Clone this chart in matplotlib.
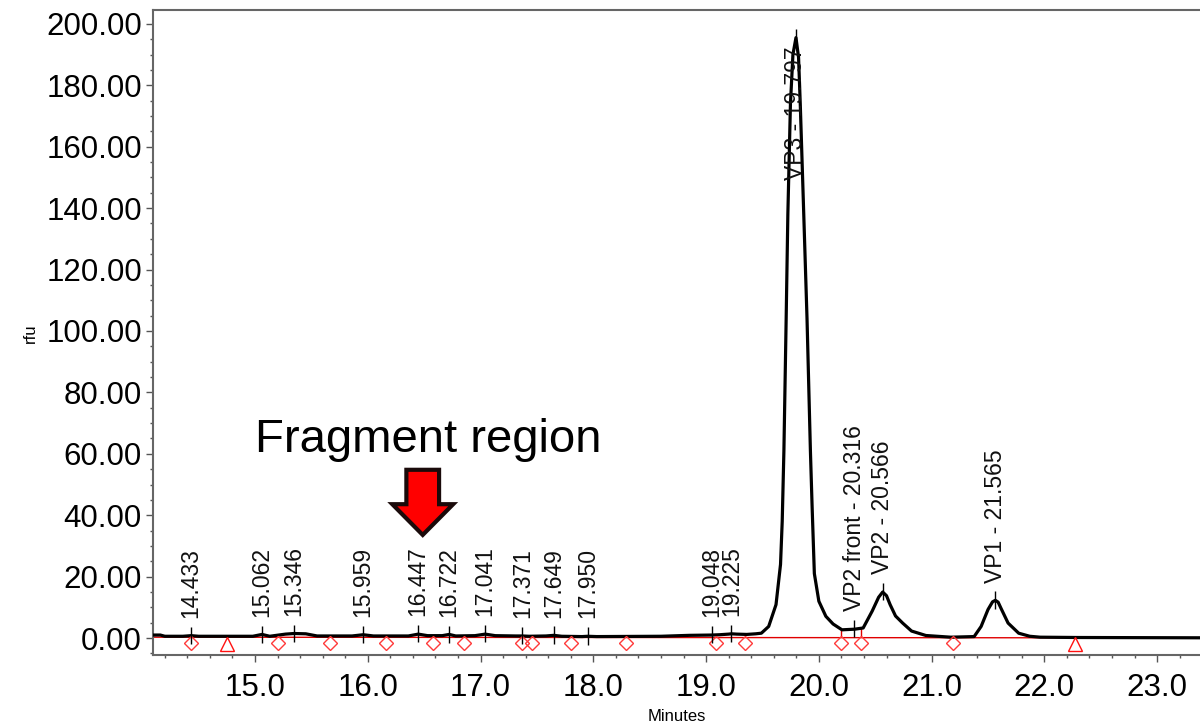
import matplotlib
matplotlib.use("Agg")
import matplotlib.pyplot as plt
from matplotlib.patches import FancyArrow
from matplotlib.ticker import MultipleLocator, FormatStrFormatter

plt.rcParams['font.family'] = ['Liberation Sans', 'DejaVu Sans']

# detector trace (minutes, rfu)
trace_t = [14.09, 14.16, 14.20, 14.36, 14.433, 14.50, 14.98, 15.062, 15.13, 15.27,
           15.346, 15.45, 15.55, 15.86, 15.959, 16.05, 16.36, 16.447, 16.53, 16.66,
           16.722, 16.78, 16.95, 17.041, 17.13, 17.31, 17.371, 17.43, 17.58, 17.649,
           17.72, 17.90, 17.950, 18.03, 18.60, 18.85, 19.048, 19.12, 19.20, 19.225,
           19.27, 19.36, 19.44, 19.49, 19.555, 19.62, 19.66, 19.675, 19.69, 19.71,
           19.725, 19.748, 19.77, 19.797, 19.82, 19.835, 19.866, 19.895, 19.925, 19.94,
           19.96, 20.00, 20.062, 20.126, 20.205, 20.26, 20.316, 20.393, 20.473, 20.53,
           20.566, 20.60, 20.632, 20.68, 20.743, 20.822, 20.949, 21.17, 21.377, 21.439,
           21.50, 21.54, 21.565, 21.59, 21.614, 21.678, 21.772, 21.87, 21.962, 22.30,
           23.40]
trace_v = [1.0, 1.0, 0.6, 0.6, 0.8, 0.6, 0.6, 1.2, 0.6, 1.3,
           1.5, 1.4, 0.7, 0.7, 1.1, 0.7, 0.7, 1.3, 0.8, 0.8,
           1.2, 0.7, 0.8, 1.3, 0.8, 0.7, 0.7, 0.6, 0.7, 0.9,
           0.6, 0.5, 0.6, 0.5, 0.6, 0.9, 1.0, 1.1, 1.3, 1.4,
           1.3, 1.2, 1.4, 1.6, 3.8, 10.9, 24.0, 38.0, 61.0, 104.0,
           138.0, 174.0, 190.0, 195.5, 189.0, 174.0, 138.0, 104.0, 61.0, 43.0,
           21.0, 12.0, 7.1, 4.6, 2.7, 2.8, 2.9, 3.3, 8.8, 13.3,
           15.0, 13.8, 10.9, 7.2, 4.9, 2.3, 0.85, 0.3, 0.5, 3.8,
           9.3, 11.8, 12.3, 11.7, 9.8, 4.9, 1.6, 0.6, 0.3, 0.2,
           0.1]

# integration baseline
base_t = [14.09, 22.273]
base_v = [0.3, 0.1]

# labelled peaks
peak_times = [14.433, 15.062, 15.346, 15.959, 16.447, 16.722, 17.041, 17.371,
              17.649, 17.950, 19.048, 19.225, 19.797, 20.316, 20.566, 21.565]
peak_names = ['', '', '', '', '', '', '', '', '', '', '', '',
              'VP3', 'VP2 front', 'VP2', 'VP1']
peak_height = [0.8, 1.2, 1.5, 1.1, 1.3, 1.2, 1.3, 0.7,
               0.9, 0.6, 1.0, 1.4, 195.5, 2.9, 15.0, 12.3]

# peak start / end markers
diamond_t = [14.430, 15.201, 15.665, 16.159, 16.581, 16.854, 17.365, 17.459,
             17.803, 18.290, 19.089, 19.346, 20.197, 20.372, 21.190]
triangle_t = [14.749, 22.273]
drop_t = [20.197, 20.372]
drop_v = [2.7, 3.2]

fig = plt.figure(figsize=(12, 7.24), dpi=100)
ax = fig.add_axes([0.1275, 0.0953, 0.8725, 0.8909])

ax.plot(base_t, base_v, color='#e00000', lw=1.0, zorder=2)
ax.plot(trace_t, trace_v, color='black', lw=2.3, solid_joinstyle='round', zorder=3)
ax.vlines(drop_t, 0.2, drop_v, color='#e00000', lw=1.0, zorder=2)

ax.plot(diamond_t, [-1.7] * len(diamond_t), ls='none', marker='D', ms=7.2,
        mfc='none', mec='#ff3a3a', mew=1.0, zorder=4)
ax.plot(triangle_t, [-1.9] * len(triangle_t), ls='none', marker='^', ms=10,
        mfc='none', mec='#ff1010', mew=1.0, zorder=4)

for t, name, h in zip(peak_times, peak_names, peak_height):
    ax.vlines(t, h - 2.7, h + 2.9, color='black', lw=1.0, zorder=4)
    txt = f'{name} - {t:.3f}' if name else f'{t:.3f}'
    ybase = 149 if h > 100 else h + 5.8
    ax.text(t, ybase, txt, rotation=90, ha='center', va='bottom',
            fontsize=16.5, color='#111111', zorder=5)

# annotation
ax.text(15.0, 60.6, 'Fragment region', fontsize=34, ha='left', va='baseline')
ax.add_patch(FancyArrow(16.487, 54.8, 0, -21.2, width=0.29, head_width=0.54,
                        head_length=10.0, length_includes_head=True,
                        facecolor='#ff0000', edgecolor='#1a0a0a', lw=3.0,
                        joinstyle='miter', zorder=6))

ax.set_xlim(14.095, 23.38)
ax.set_ylim(-5.5, 204.5)
ax.xaxis.set_major_locator(MultipleLocator(1.0))
ax.xaxis.set_minor_locator(MultipleLocator(0.2))
ax.yaxis.set_major_locator(MultipleLocator(20))
ax.yaxis.set_minor_locator(MultipleLocator(5))
ax.xaxis.set_major_formatter(FormatStrFormatter('%.1f'))
ax.yaxis.set_major_formatter(FormatStrFormatter('%.2f'))

ax.tick_params(axis='both', which='major', direction='out', length=5, width=1.0,
               color='#555555', labelsize=22.5, labelcolor='black')
ax.tick_params(axis='both', which='minor', direction='out', length=2.5, width=1.0,
               color='#555555')
ax.tick_params(axis='x', which='major', pad=8)
ax.tick_params(axis='y', which='major', pad=3)

for side in ['left', 'bottom', 'top']:
    ax.spines[side].set_color('#666666')
    ax.spines[side].set_linewidth(1.5)
ax.spines['right'].set_visible(False)

ax.set_xlabel('Minutes', fontsize=12, labelpad=4)
fig.text(0.025, 0.54, 'rfu', rotation=90, fontsize=12, ha='center', va='center')

fig.savefig('out.png', dpi=100)
